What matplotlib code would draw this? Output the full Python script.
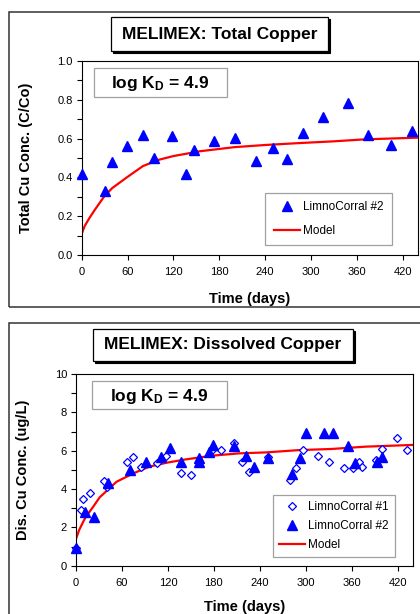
import matplotlib
matplotlib.use("Agg")
import matplotlib.pyplot as plt
from matplotlib.patches import Rectangle
from matplotlib.ticker import MultipleLocator, FormatStrFormatter

plt.rcParams['font.family'] = ['Liberation Sans', 'DejaVu Sans']
plt.rcParams['mathtext.fontset'] = 'custom'
plt.rcParams['mathtext.rm'] = 'Liberation Sans:bold'
plt.rcParams['mathtext.default'] = 'rm'

# Total copper, LimnoCorral #2 (C/Co)
tot_days = [0, 30, 40, 59, 80, 94, 118, 136, 147, 173, 201, 228, 250, 268, 290, 316, 349, 375, 405, 432]
tot_lc2 = [0.42, 0.33, 0.48, 0.56, 0.62, 0.50, 0.615, 0.415, 0.54, 0.59, 0.605, 0.485, 0.55, 0.495,
           0.63, 0.71, 0.785, 0.62, 0.565, 0.64]
tot_model_days = [0, 4, 10, 17, 30, 40, 59, 80, 100, 120, 155, 200, 240, 285, 330, 370, 440]
tot_model = [0.11, 0.15, 0.19, 0.232, 0.305, 0.345, 0.40, 0.458, 0.49, 0.51, 0.535, 0.556, 0.567,
             0.577, 0.586, 0.596, 0.605]

# Dissolved copper (ug/L)
dis_days_lc1 = [0, 6, 9, 18, 36, 40, 67, 75, 85, 106, 118, 137, 150, 178, 189, 206, 217, 226, 251,
                279, 287, 296, 316, 330, 350, 362, 370, 374, 392, 399, 419, 432]
dis_lc1 = [0.9, 2.9, 3.5, 3.8, 4.43, 4.12, 5.43, 5.65, 5.13, 5.34, 5.72, 4.82, 4.73, 6.03, 6.03, 6.42,
           5.43, 4.9, 5.69, 4.47, 5.08, 6.03, 5.72, 5.39, 5.08, 5.08, 5.39, 5.13, 5.5, 6.07, 6.64, 6.03]
dis_days_lc2 = [0, 12, 24, 42, 71, 91, 111, 123, 137, 160, 160, 173, 179, 206, 222, 232, 251, 282,
                293, 300, 324, 335, 355, 364, 393, 400]
dis_lc2 = [0.94, 2.82, 2.52, 4.3, 4.99, 5.43, 5.69, 6.16, 5.43, 5.63, 5.41, 5.95, 6.3, 6.24, 5.72,
           5.13, 5.63, 4.77, 5.6, 6.9, 6.9, 6.9, 6.24, 5.34, 5.43, 5.65]
dis_model_days = [0, 4, 9.5, 13, 22, 31, 53, 75, 96, 118, 144, 178, 213, 248, 291, 334, 378, 440]
dis_model = [1.4, 1.85, 2.3, 2.56, 3.05, 3.57, 4.38, 4.82, 5.17, 5.37, 5.55, 5.74, 5.86, 5.91, 6.03,
             6.09, 6.21, 6.3]

W, H = 420, 614
fig = plt.figure(figsize=(W / 100, H / 100), dpi=100)


def fx(x):
    return x / W


def fy(y):
    return 1 - y / H


def frame(x0, y0, x1, y1, **kw):
    fig.patches.append(Rectangle((fx(x0), fy(y1)), fx(x1) - fx(x0), fy(y0) - fy(y1),
                                 transform=fig.transFigure, **kw))


def title_box(x0, y0, x1, y1, text):
    frame(x0 + 2, y0 + 2, x1 + 2, y1 + 2, facecolor='black', edgecolor='black', lw=0.8, zorder=5)
    frame(x0, y0, x1, y1, facecolor='white', edgecolor='black', lw=0.9, zorder=6)
    fig.text(fx((x0 + x1) / 2), fy((y0 + y1) / 2), text, ha='center', va='center',
             fontsize=12.5, fontweight='bold', zorder=7)


def kd_box(x0, y0, x1, y1):
    frame(x0, y0, x1, y1, facecolor='white', edgecolor='#a0a0a0', lw=0.9, zorder=6)
    fig.text(fx((x0 + x1) / 2), fy((y0 + y1) / 2) - 0.002, r"log K$_\mathrm{D}$ = 4.9",
             ha='center', va='center', fontsize=12.5, fontweight='bold', zorder=7)


# outer panel frames
frame(9, 12, 430, 307, facecolor='none', edgecolor='#333333', lw=1.1, zorder=0)
frame(9, 323, 430, 630, facecolor='none', edgecolor='#333333', lw=1.1, zorder=0)


def style_axes(ax, ymax, ymajor, yminor):
    ax.set_xlim(0, 440)
    ax.set_ylim(0, ymax)
    ax.set_xticks(range(0, 421, 60))
    ax.yaxis.set_major_locator(MultipleLocator(ymajor))
    ax.yaxis.set_minor_locator(MultipleLocator(yminor))
    ax.tick_params(direction='out', length=3.5, width=0.8, labelsize=8, pad=3)
    ax.tick_params(axis='x', pad=5)
    ax.tick_params(axis='y', which='minor', direction='out', length=3.5, width=0.8)
    for s in ax.spines.values():
        s.set_linewidth(0.8)


# top panel
ax1 = fig.add_axes([fx(81.7), fy(255), fx(418) - fx(81.7), fy(61) - fy(255)])
ax1.plot(tot_days, tot_lc2, linestyle='none', marker='^', markersize=6.5, color='#0000ff',
         label='LimnoCorral #2', zorder=3, clip_on=False)
ax1.plot(tot_model_days, tot_model, color='#ff0000', lw=1.6, label='Model', zorder=2)
style_axes(ax1, 1.0, 0.2, 0.1)
ax1.yaxis.set_major_formatter(FormatStrFormatter('%.1f'))
ax1.set_ylabel('Total Cu Conc. (C/Co)', fontsize=10.5, fontweight='bold')
ax1.yaxis.set_label_coords(-0.145, 0.5)
ax1.set_xlabel('Time (days)', fontsize=10.5, fontweight='bold')
ax1.xaxis.set_label_coords(0.5, -0.19)
leg1 = ax1.legend(loc='lower right', bbox_to_anchor=(fx(392), fy(245)), bbox_transform=fig.transFigure,
                  fancybox=False, edgecolor='#a0a0a0', fontsize=8.5, handlelength=2.2,
                  borderpad=0.7, labelspacing=1.0, handletextpad=0.3, framealpha=1, borderaxespad=0)
leg1.get_frame().set_linewidth(0.9)

# bottom panel
ax2 = fig.add_axes([fx(76), fy(565.7), fx(413) - fx(76), fy(374) - fy(565.7)])
ax2.plot(dis_days_lc1, dis_lc1, linestyle='none', marker='D', markersize=4.5, markerfacecolor='white',
         markeredgecolor='#0000ff', markeredgewidth=0.9, label='LimnoCorral #1', zorder=3, clip_on=False)
ax2.plot(dis_days_lc2, dis_lc2, linestyle='none', marker='^', markersize=6.5, color='#0000ff',
         label='LimnoCorral #2', zorder=4, clip_on=False)
ax2.plot(dis_model_days, dis_model, color='#ff0000', lw=1.6, label='Model', zorder=2)
style_axes(ax2, 10, 2, 1)
ax2.set_ylabel('Dis. Cu Conc. (ug/L)', fontsize=10.5, fontweight='bold')
ax2.yaxis.set_label_coords(-0.137, 0.5)
ax2.set_xlabel('Time (days)', fontsize=10.5, fontweight='bold')
ax2.xaxis.set_label_coords(0.5, -0.178)
leg2 = ax2.legend(loc='lower right', bbox_to_anchor=(fx(395), fy(557)), bbox_transform=fig.transFigure,
                  fancybox=False, edgecolor='#a0a0a0', fontsize=8.5, handlelength=2.2,
                  borderpad=0.5, labelspacing=0.6, handletextpad=0.3, framealpha=1, borderaxespad=0)
leg2.get_frame().set_linewidth(0.9)

title_box(111, 17, 328, 51, 'MELIMEX: Total Copper')
title_box(93, 329, 353, 361, 'MELIMEX: Dissolved Copper')
kd_box(94, 68, 227, 97)
kd_box(92, 381, 227, 409)

fig.savefig('out.png', dpi=100)
